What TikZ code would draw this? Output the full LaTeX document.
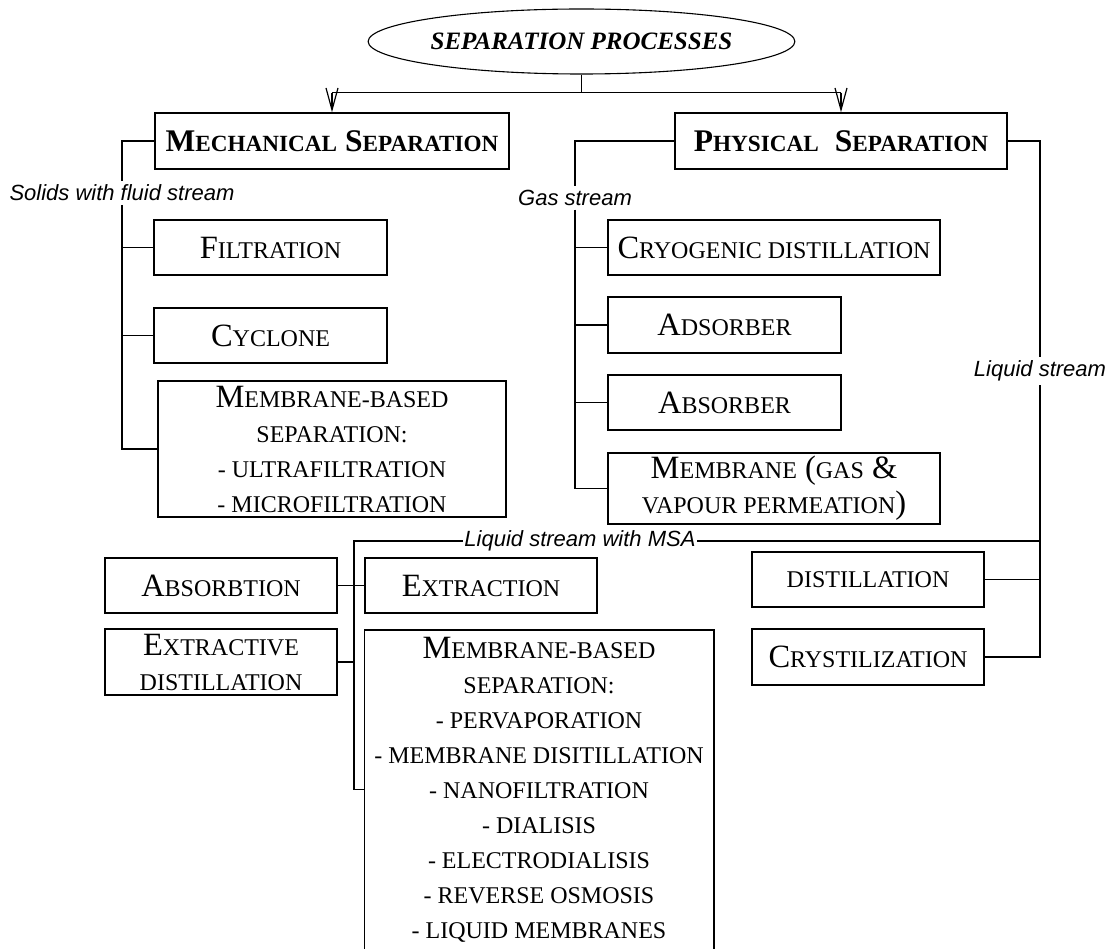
\documentclass[tikz,border=0pt]{standalone}
\usepackage{fontspec}
\setmainfont{Liberation Serif}
\newfontfamily\labelfont{Liberation Sans}
\usetikzlibrary{shapes.geometric,arrows.meta}
% small capitals faked from a smaller size of the same face
\def\smcsize{24pt}
\newcommand\smc[1]{{\fontsize{\smcsize}{35pt}\selectfont #1}}
\begin{document}
\begin{tikzpicture}[x=1pt,y=-1pt,
  line width=1.5pt,
  box/.style={draw, rectangle, inner sep=0pt, align=center,
    font=\fontsize{32.5pt}{35pt}\selectfont},
  head/.style={box, font=\fontsize{31.5pt}{35pt}\selectfont\bfseries\def\smcsize{23.2pt}},
  lbl/.style={inner xsep=1pt, inner ysep=3pt,
    font=\labelfont\itshape\fontsize{22pt}{26pt}\selectfont},
  barb/.style={-{Straight Barb[length=22pt,width=12pt,line width=1.2pt]}}]
\clip (0,0) rectangle (1113,949);

% root
\node[draw, ellipse, line width=1.1pt, minimum width=409pt, minimum height=65pt,
  inner sep=0pt, font=\bfseries\itshape\fontsize{25pt}{30pt}\selectfont]
  (root) at (581.5,41.5) {SEPARATION PROCESSES};

% main branches
\node[head, minimum width=354pt, minimum height=56pt] (mech) at (332,141)
  {M\smc{ECHANICAL} S\smc{EPARATION}};
\node[head, minimum width=332pt, minimum height=56pt] (phys) at (841,141)
  {P\smc{HYSICAL}\hspace{16pt}S\smc{EPARATION}};

% mechanical separation
\node[box, minimum width=233pt, minimum height=55pt] (filt) at (270.5,247.5)
  {F\smc{ILTRATION}};
\node[box, minimum width=233pt, minimum height=55pt] (cyc) at (270.5,335.5)
  {C\smc{YCLONE}};
\node[box, minimum width=348pt, minimum height=136pt] (memM) at (332,449)
  {M\smc{EMBRANE-BASED}\\ \smc{SEPARATION:}\\ \smc{- ULTRAFILTRATION}\\ \smc{- MICROFILTRATION}};

% physical separation, gas stream
\node[box, minimum width=332pt, minimum height=55pt] (cryo) at (774,247.5)
  {C\smc{RYOGENIC DISTILLATION}};
\node[box, minimum width=233pt, minimum height=56pt] (ads) at (724.5,325)
  {A\smc{DSORBER}};
\node[box, minimum width=233pt, minimum height=55pt] (abs) at (724.5,402.5)
  {A\smc{BSORBER}};
\node[box, minimum width=332pt, minimum height=71pt] (memP) at (774,488.5)
  {M\smc{EMBRANE} (\smc{GAS} \&\\ \smc{VAPOUR PERMEATION})};

% liquid stream
\node[box, minimum width=232pt, minimum height=55pt] (dist) at (868,579.5)
  {\smc{DISTILLATION}};
\node[box, minimum width=232pt, minimum height=56pt] (cryst) at (868,657)
  {C\smc{RYSTILIZATION}};

% liquid stream with MSA
\node[box, minimum width=232pt, minimum height=55pt] (absb) at (221,585.5)
  {A\smc{BSORBTION}};
\node[box, minimum width=232pt, minimum height=55pt] (extr) at (481,585.5)
  {E\smc{XTRACTION}};
\node[box, minimum width=232pt, minimum height=66pt] (exd) at (221,662)
  {E\smc{XTRACTIVE}\\ \smc{DISTILLATION}};
\node[font=\fontsize{32.5pt}{35pt}\selectfont, align=center, anchor=north,
  minimum width=348pt, inner xsep=0pt, inner ysep=6pt] (big) at (539,630)
  {M\smc{EMBRANE-BASED}\\ \smc{SEPARATION:}\\ \smc{- PERVAPORATION}\\
   \smc{- MEMBRANE DISITILLATION}\\ \smc{- NANOFILTRATION}\\ \smc{- DIALISIS}\\
   \smc{- ELECTRODIALISIS}\\ \smc{- REVERSE OSMOSIS}\\ \smc{- LIQUID MEMBRANES}};
\draw ([yshift=-60pt]big.south west) -- (big.north west) -- (big.north east)
  -- ([yshift=-60pt]big.south east);

% stream labels
\node[lbl] (solids) at (122,193) {Solids with fluid stream};
\node[lbl] (gas) at (575,198) {Gas stream};
\node[lbl] (liq) at (1040,371) {Liquid stream};
\node[lbl, inner ysep=1pt] (msa) at (580,541) {Liquid stream with MSA};

% fork from the root
\coordinate (fork) at ([yshift=-18pt]root.south);
\draw (root.south) -- (fork);
\draw (mech.north |- fork) -- (phys.north |- fork);
\draw[barb] (mech.north |- fork) -- (mech.north);
\draw[barb] (phys.north |- fork) -- (phys.north);

% mechanical spine
\draw (mech.west) -| (solids.north);
\draw (solids.south) |- (memM.west);
\draw (filt.west) -- (filt.west -| solids.south);
\draw (cyc.west) -- (cyc.west -| solids.south);

% gas spine
\draw (phys.west) -| (gas.north);
\draw (gas.south) |- (memP.west);
\draw (cryo.west) -- (cryo.west -| gas.south);
\draw (ads.west) -- (ads.west -| gas.south);
\draw (abs.west) -- (abs.west -| gas.south);

% liquid spine
\draw (phys.east) -| (liq.north);
\draw (liq.south) |- (cryst.east);
\draw (dist.east) -- (dist.east -| liq.south);

% MSA spine
\coordinate (msx) at (354,0);
\coordinate (ms) at (msx |- msa.west);
\draw (msa.east) -- (msa.east -| liq.south);
\draw (msa.west) -- (ms) -- (ms |- big.west) -- (big.west);
\draw (absb.east) -- (absb.east -| ms);
\draw (extr.west) -- (extr.west -| ms);
\draw (exd.east) -- (exd.east -| ms);
\end{tikzpicture}
\end{document}
